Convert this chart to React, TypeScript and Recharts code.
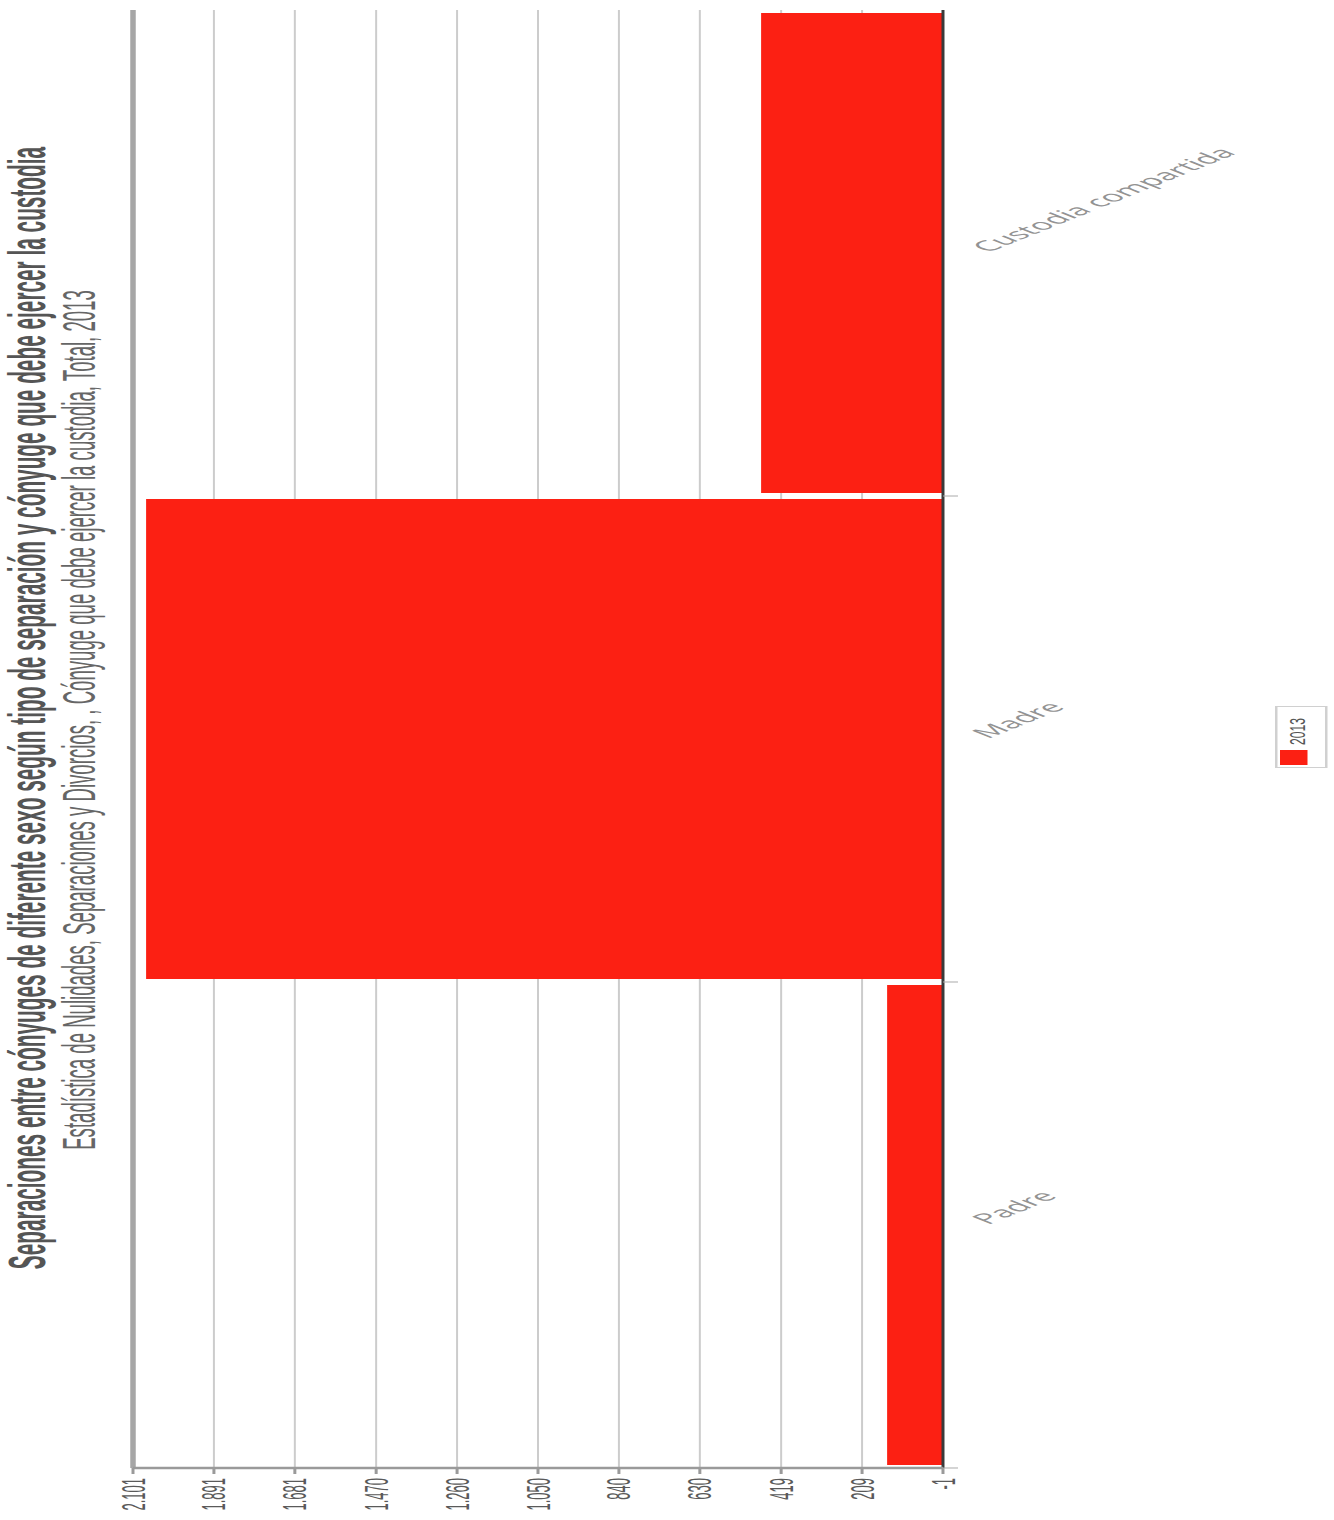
import { BarChart, Bar, XAxis, YAxis, CartesianGrid, ReferenceLine } from 'recharts'

// Datos: cónyuge que debe ejercer la custodia, total 2013
const categories = ['Padre', 'Madre', 'Custodia compartida']
const values2013 = [144, 2067, 471]
const valueTicks = [-1, 209, 419, 630, 840, 1050, 1260, 1470, 1681, 1891, 2101]
const seriesName = '2013'
const seriesColor = '#FC2013'

const TITLE =
  'Separaciones entre cónyuges de diferente sexo según tipo de separación y cónyuge que debe ejercer la custodia'
const SUBTITLE =
  'Estadística de Nulidades, Separaciones y Divorcios, , Cónyuge que debe ejercer la custodia, Total, 2013'

// El gráfico se dibuja en columnas y luego se gira -90° y se estira
const W = 1520
const STRETCH = 2.5
const H = 1334 / STRETCH

const data = categories.map((name, i) => ({ name, v2013: values2013[i] }))

const fmt = (v: number) => String(v).replace(/\B(?=(\d{3})+(?!\d))/g, '.')

function CategoryTick(props: any) {
  const { x, y, payload } = props
  const half = payload?.offset ?? 0
  const ty = y + 18
  return (
    <g>
      <line x1={x - half} x2={x - half} y1={y} y2={y + 6} stroke="#aaa" strokeWidth={1} />
      <text
        x={x}
        y={ty}
        transform={`rotate(45, ${x}, ${ty})`}
        textAnchor="start"
        fill="#939393"
        fontFamily="'Open Sans', sans-serif"
        fontSize={14.5}
      >
        {payload.value}
      </text>
    </g>
  )
}

export default function App() {
  return (
    <div
      style={{
        position: 'absolute',
        left: 0,
        top: 0,
        width: W,
        height: H,
        transformOrigin: '0 0',
        transform: `translate(0px, ${W}px) rotate(-90deg) scaleY(${STRETCH})`,
        background: '#fff',
        fontFamily: "'Liberation Sans', Arial, sans-serif",
      }}
    >
      <div
        style={{
          position: 'absolute',
          left: 812,
          top: 1,
          transform: 'translateX(-50%)',
          whiteSpace: 'nowrap',
          fontSize: 20.8,
          lineHeight: '20px',
          fontWeight: 'bold',
          color: '#555',
        }}
      >
        {TITLE}
      </div>
      <div
        style={{
          position: 'absolute',
          left: 800,
          top: 22,
          transform: 'translateX(-50%)',
          whiteSpace: 'nowrap',
          fontSize: 18.6,
          lineHeight: '20px',
          color: '#666',
        }}
      >
        {SUBTITLE}
      </div>

      <BarChart
        width={W}
        height={H}
        data={data}
        margin={{ top: 53.2, right: 10, left: 0, bottom: 0 }}
        barCategoryGap={3}
      >
        <CartesianGrid yAxisId="v" vertical={false} stroke="#cccccc" strokeWidth={0.8} />
        <XAxis
          dataKey="name"
          type="category"
          height={H - 377.2}
          interval={0}
          tickSize={0}
          tickMargin={0}
          tickLine={false}
          axisLine={{ stroke: '#3a3a3a', strokeWidth: 1.2 }}
          tick={<CategoryTick />}
        />
        <YAxis
          yAxisId="v"
          type="number"
          domain={[-1, 2101]}
          ticks={valueTicks}
          interval={0}
          width={52}
          tickSize={6}
          tickMargin={4}
          tickFormatter={fmt}
          tick={{ fill: '#5a5a5a', fontSize: 13 }}
          tickLine={{ stroke: '#9a9a9a', strokeWidth: 1.2 }}
          axisLine={{ stroke: '#9a9a9a', strokeWidth: 2.5 }}
        />
        <YAxis
          yAxisId="r"
          orientation="right"
          type="number"
          domain={[-1, 2101]}
          width={0}
          tick={false}
          tickLine={false}
          axisLine={{ stroke: '#c8c8c8', strokeWidth: 4 }}
        />
        <Bar
          yAxisId="v"
          dataKey="v2013"
          name={seriesName}
          fill={seriesColor}
          isAnimationActive={false}
        />
        <ReferenceLine yAxisId="v" y={2101} stroke="#a6a6a6" strokeWidth={2.2} />
      </BarChart>

      {/* Leyenda */}
      <div
        style={{
          position: 'absolute',
          left: 752,
          top: 509.6,
          width: 60,
          height: 19,
          border: '1px solid #d0d0d0',
          background: '#fff',
        }}
      >
        <div
          style={{
            position: 'absolute',
            left: 2,
            top: 1.6,
            width: 15,
            height: 11,
            background: seriesColor,
          }}
        />
        <div
          style={{
            position: 'absolute',
            left: 22,
            top: 2,
            fontSize: 9,
            lineHeight: '12px',
            color: '#555',
            transformOrigin: '0 0',
            transform: 'scaleX(1.35)',
            whiteSpace: 'nowrap',
          }}
        >
          {seriesName}
        </div>
      </div>
    </div>
  )
}
